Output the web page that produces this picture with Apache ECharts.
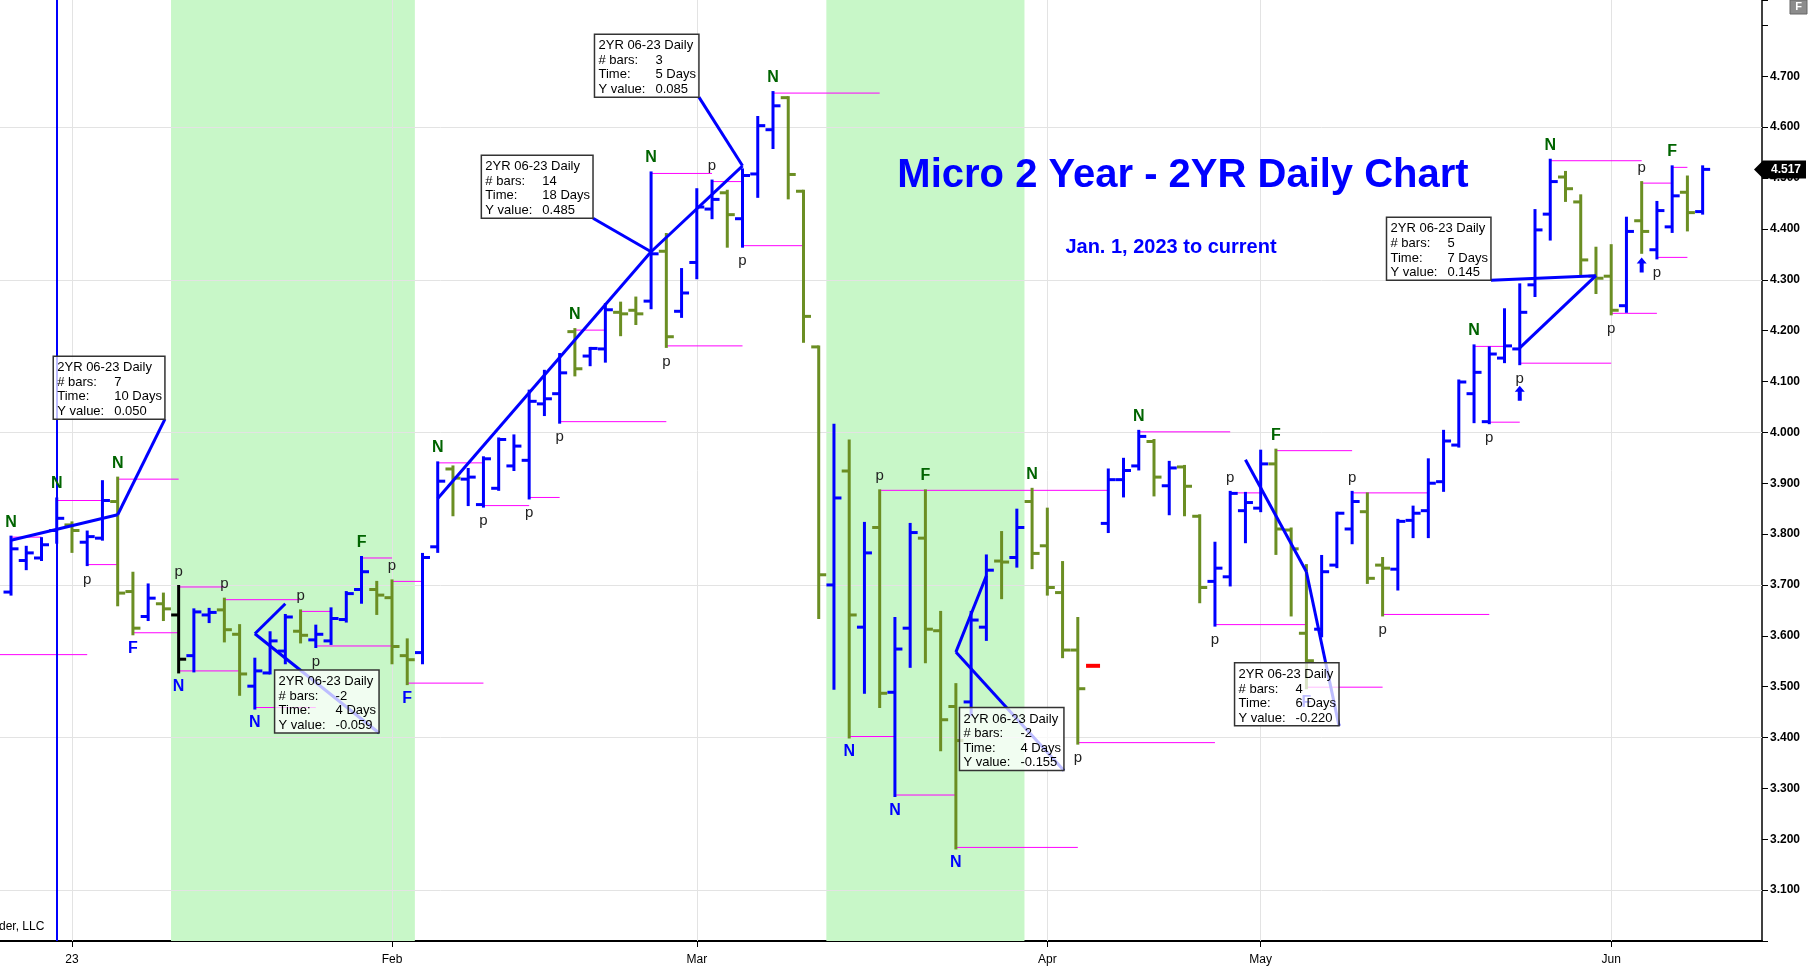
<!DOCTYPE html>
<html lang="en">
<head>
<meta charset="UTF-8">
<title>Micro 2 Year - 2YR Daily Chart</title>
<style>
    * {
        margin: 0;
        padding: 0;
        box-sizing: border-box;
    }

    html,
    body {
        width: 100%;
        height: 100%;
        background: #fff;
    }

    #chart {
        width: 1809px;
        height: 971px;
    }
</style>
</head>
<body>
<div id="chart"></div>
<script src="https://cdn.jsdelivr.net/npm/echarts@6.0.0/dist/echarts.min.js"></script>
<script>
    // daily bars [open, high, low, close], null = no session
    const ohlc = [
        [3.686, 3.794, 3.682, 3.771], [3.748, 3.774, 3.732, 3.763], [3.753, 3.791, 3.750, 3.779], [3.807, 3.869, 3.784, 3.831],
        [3.818, 3.822, 3.766, 3.807], [3.784, 3.804, 3.740, 3.795], [3.792, 3.903, 3.790, 3.866], [3.864, 3.910, 3.661, 3.684],
        [3.687, 3.723, 3.604, 3.615], [3.638, 3.700, 3.632, 3.674], [3.663, 3.682, 3.632, 3.653], [3.641, 3.697, 3.529, 3.554],
        [3.561, 3.651, 3.531, 3.647], [3.641, 3.652, 3.628, 3.646], [3.651, 3.672, 3.590, 3.612], [3.603, 3.620, 3.485, 3.525],
        [3.501, 3.554, 3.458, 3.531], [3.527, 3.606, 3.527, 3.590], [3.570, 3.640, 3.547, 3.637], [3.609, 3.649, 3.588, 3.601],
        [3.592, 3.619, 3.579, 3.603], [3.590, 3.653, 3.585, 3.634], [3.632, 3.685, 3.629, 3.683], [3.691, 3.754, 3.666, 3.726],
        [3.691, 3.705, 3.644, 3.680], [3.675, 3.708, 3.547, 3.579], [3.561, 3.592, 3.506, 3.553], [3.567, 3.760, 3.547, 3.754],
        [3.775, 3.940, 3.766, 3.904], [3.928, 3.932, 3.838, 3.910], [3.908, 3.927, 3.858, 3.912], [3.858, 3.950, 3.855, 3.948],
        [3.890, 3.987, 3.888, 3.986], [3.934, 3.993, 3.927, 3.973], [3.945, 4.081, 3.871, 4.061], [4.056, 4.120, 4.035, 4.066],
        [4.076, 4.153, 4.020, 4.117], [4.198, 4.202, 4.113, 4.125], [4.150, 4.165, 4.133, 4.165], [4.164, 4.251, 4.140, 4.241],
        [4.236, 4.254, 4.192, 4.233], [4.240, 4.264, 4.214, 4.233], [4.258, 4.510, 4.245, 4.351], [4.356, 4.389, 4.169, 4.188],
        [4.238, 4.320, 4.228, 4.274], [4.334, 4.477, 4.304, 4.443], [4.439, 4.494, 4.422, 4.458], [4.471, 4.474, 4.366, 4.428],
        [4.420, 4.516, 4.366, 4.505], [4.508, 4.619, 4.464, 4.603], [4.595, 4.668, 4.560, 4.642], [4.658, 4.658, 4.461, 4.507],
        [4.474, 4.474, 4.179, 4.228], [4.168, 4.168, 3.636, 3.720], [3.700, 4.014, 3.497, 3.871], [3.924, 3.983, 3.401, 3.641],
        [3.617, 3.821, 3.489, 3.763], [3.813, 3.885, 3.461, 3.487], [3.489, 3.634, 3.286, 3.574], [3.615, 3.819, 3.540, 3.803],
        [3.792, 3.885, 3.549, 3.613], [3.610, 3.646, 3.376, 3.435], [3.461, 3.504, 3.183, 3.394], [3.470, 3.646, 3.445, 3.631],
        [3.617, 3.757, 3.593, 3.729], [3.747, 3.803, 3.675, 3.745], [3.754, 3.847, 3.737, 3.813], [3.864, 3.888, 3.734, 3.762],
        [3.777, 3.849, 3.682, 3.695], [3.685, 3.744, 3.559, 3.572], [3.572, 3.634, 3.389, 3.496], null,
        [3.821, 3.926, 3.805, 3.907], [3.907, 3.947, 3.875, 3.925], [3.934, 4.002, 3.928, 3.992], [3.982, 3.984, 3.877, 3.912],
        [3.895, 3.941, 3.840, 3.930], [3.932, 3.933, 3.838, 3.894], [3.835, 3.836, 3.667, 3.695], [3.707, 3.782, 3.621, 3.733],
        [3.716, 3.882, 3.700, 3.880], [3.846, 3.880, 3.785, 3.862], [3.851, 3.963, 3.846, 3.938], [3.938, 3.965, 3.762, 3.810],
        [3.808, 3.810, 3.641, 3.771], [3.605, 3.738, 3.498, 3.551], [3.613, 3.756, 3.600, 3.726], [3.739, 3.841, 3.736, 3.841],
        [3.810, 3.882, 3.783, 3.864], [3.844, 3.879, 3.705, 3.713], [3.739, 3.752, 3.641, 3.733], [3.731, 3.827, 3.692, 3.825],
        [3.827, 3.853, 3.795, 3.841], [3.846, 3.946, 3.795, 3.900], [3.903, 4.002, 3.886, 3.983], [3.975, 4.101, 3.973, 4.099],
        [4.076, 4.170, 4.021, 4.118], [4.021, 4.166, 4.019, 4.154], [4.146, 4.241, 4.139, 4.170], [4.164, 4.290, 4.135, 4.236],
        [4.290, 4.436, 4.269, 4.398], [4.429, 4.535, 4.380, 4.493], [4.502, 4.511, 4.456, 4.479], [4.453, 4.465, 4.310, 4.339],
        [4.307, 4.362, 4.275, 4.303], [4.307, 4.367, 4.233, 4.240], [4.249, 4.421, 4.238, 4.395], [4.416, 4.491, 4.354, 4.395],
        [4.359, 4.452, 4.343, 4.436], [4.404, 4.522, 4.395, 4.465], [4.472, 4.502, 4.398, 4.432], [4.434, 4.522, 4.431, 4.517]
    ];

    // x axis: bar numbers where a month starts, and the text under them
    const monthTicks = [4, 25, 45, 68, 82, 105];
    const monthNames = ['23', 'Feb', 'Mar', 'Apr', 'May', 'Jun'];
    const gridLevels = [3.1, 3.4, 3.7, 4.0, 4.3, 4.6];
    const shaded = [[10.5, 26.5], [53.5, 66.5]];
    const cursorBar = 3;
    const lastPrice = 4.517;

    // pivot levels [from bar, to bar, price]
    const pivotLines = [
        [0, 2, 3.794], [-1, 5, 3.563], [3, 6, 3.866], [5, 7, 3.740], [7, 11, 3.908], [8, 11, 3.606],
        [11, 14, 3.696], [11, 15, 3.531], [14, 19, 3.671], [16, 20, 3.459], [19, 21, 3.648], [20, 25, 3.580],
        [23, 25, 3.753], [25, 27, 3.707], [26, 31, 3.507], [28, 31, 3.940], [31, 34, 3.856], [34, 36, 3.872],
        [36, 43, 4.021], [37, 39, 4.201], [42, 46, 4.509], [43, 48, 4.170], [46, 48, 4.493], [48, 52, 4.367],
        [50, 57, 4.667], [55, 58, 3.402], [57, 72, 3.886], [58, 62, 3.287], [62, 70, 3.184], [70, 79, 3.390],
        [74, 80, 4.001], [80, 82, 3.881], [79, 85, 3.622], [83, 88, 3.964], [85, 90, 3.499], [88, 93, 3.881],
        [90, 97, 3.642], [96, 98, 4.169], [97, 99, 4.020], [99, 105, 4.136], [101, 107, 4.534], [105, 108, 4.234],
        [107, 109, 4.490], [108, 110, 4.344], [109, 110, 4.521]
    ];

    // swing letters [bar, text, side]
    const markers = [
        [0, 'N', 'up'], [3, 'N', 'up'], [5, 'p', 'dn'], [7, 'N', 'up'], [8, 'F', 'dn'], [11, 'p', 'up'], [11, 'N', 'dn'],
        [14, 'p', 'up'], [16, 'N', 'dn'], [19, 'p', 'up'], [20, 'p', 'dn'], [23, 'F', 'up'], [25, 'p', 'up'], [26, 'F', 'dn'],
        [28, 'N', 'up'], [31, 'p', 'dn'], [34, 'p', 'dn'], [36, 'p', 'dn'], [37, 'N', 'up'], [42, 'N', 'up'], [43, 'p', 'dn'],
        [46, 'p', 'up'], [48, 'p', 'dn'], [50, 'N', 'up'], [55, 'N', 'dn'], [57, 'p', 'up'], [58, 'N', 'dn'], [60, 'F', 'up'],
        [62, 'N', 'dn'], [67, 'N', 'up'], [70, 'p', 'dn'], [74, 'N', 'up'], [79, 'p', 'dn'], [80, 'p', 'up'], [83, 'F', 'up'],
        [85, 'F', 'dn'], [88, 'p', 'up'], [90, 'p', 'dn'], [96, 'N', 'up'], [97, 'p', 'dn'], [99, 'p', 'dn'], [101, 'N', 'up'],
        [105, 'p', 'dn'], [107, 'p', 'up'], [108, 'p', 'dn'], [109, 'F', 'up']
    ];

    const arrows = [[99, 4.076], [107, 4.328]];
    const holidayMarks = [[71, 3.541]];

    // measuring tool: line from -> to, box bottom-right corner at corner
    const studies = [
        { from: [0, 3.788], to: [7, 3.838], corner: [10.10, 4.026], bars: '7', time: '10 Days', y: '0.050' },
        { from: [18, 3.663], to: [16, 3.604], corner: [24.15, 3.409], bars: '-2', time: '4 Days', y: '-0.059' },
        { from: [28, 3.870], to: [42, 4.355], corner: [38.19, 4.421], bars: '14', time: '18 Days', y: '0.485' },
        { from: [42, 4.355], to: [48, 4.524], corner: [45.14, 4.659], bars: '3', time: '5 Days', y: '0.085' },
        { from: [64, 3.718], to: [62, 3.568], corner: [69.09, 3.335], bars: '-2', time: '4 Days', y: '-0.155' },
        { from: [81, 3.946], to: [85, 3.726], corner: [87.14, 3.423], bars: '4', time: '6 Days', y: '-0.220' },
        { from: [99, 4.166], to: [104, 4.308], corner: [97.11, 4.299], bars: '5', time: '7 Days', y: '0.145' }
    ];

    const UP = '#0000ff';
    const DOWN = '#6b8e23';
    const barColors = { 11: '#000000' };
    const FONT = '"Liberation Sans", Arial, sans-serif';

    const measureCtx = document.createElement('canvas').getContext('2d');
    function textWidth(str, font) {
        measureCtx.font = font;
        return measureCtx.measureText(str).width;
    }

    function renderBar(params, api) {
        const i = api.value(0);
        const o = api.coord([i, api.value(1)]);
        const h = api.coord([i, api.value(2)]);
        const l = api.coord([i, api.value(3)]);
        const c = api.coord([i, api.value(4)]);
        const color = barColors[i] || (api.value(4) >= api.value(1) ? UP : DOWN);
        const st = { stroke: color, lineWidth: 3 };
        return {
            type: 'group',
            children: [
                { type: 'line', shape: { x1: h[0], y1: h[1] - 1.5, x2: l[0], y2: l[1] + 1.5 }, style: st },
                { type: 'line', shape: { x1: o[0] - 7.5, y1: o[1], x2: o[0], y2: o[1] }, style: st },
                { type: 'line', shape: { x1: c[0], y1: c[1], x2: c[0] + 7.5, y2: c[1] }, style: st }
            ]
        };
    }

    function renderPivot(params, api) {
        const a = api.coord([api.value(0), api.value(2)]);
        const b = api.coord([api.value(1), api.value(2)]);
        return {
            type: 'line',
            shape: { x1: a[0], y1: a[1], x2: b[0], y2: b[1] },
            style: { stroke: '#ff00ff', lineWidth: 1 }
        };
    }

    function renderMarker(params, api) {
        const m = markers[params.dataIndex];
        const p = api.coord([api.value(0), api.value(1)]);
        const above = m[2] === 'up';
        const isP = m[1] === 'p';
        return {
            type: 'text',
            x: p[0],
            y: p[1] + (above ? -15 : 15),
            style: {
                text: m[1],
                align: 'center',
                verticalAlign: 'middle',
                fill: isP ? '#222' : (above ? '#006400' : '#0000ff'),
                font: (isP ? '15px ' : 'bold 16px ') + FONT
            }
        };
    }

    function renderArrow(params, api) {
        const p = api.coord([api.value(0), api.value(1)]);
        const x = p[0], y = p[1];
        return {
            type: 'polygon',
            shape: {
                points: [[x, y - 8], [x + 5, y - 2], [x + 2, y - 2], [x + 2, y + 7], [x - 2, y + 7], [x - 2, y - 2], [x - 5, y - 2]]
            },
            style: { fill: '#0000ff' }
        };
    }

    function renderHoliday(params, api) {
        const p = api.coord([api.value(0), api.value(1)]);
        return {
            type: 'rect',
            shape: { x: p[0] - 7, y: p[1] - 2, width: 14, height: 4 },
            style: { fill: '#ff0000' }
        };
    }

    function renderStudy(params, api) {
        const s = studies[params.dataIndex];
        const a = api.coord(s.from);
        const b = api.coord(s.to);
        const c = api.coord(s.corner);
        const f = '13px ' + FONT;
        const w = Math.max(104, 61 + textWidth(s.time, f) + 3);
        const h = 63;
        const x = c[0] - w;
        const y = c[1] - h;
        const blue = { stroke: '#0000ff', lineWidth: 3 };
        const rows = [['2YR 06-23 Daily', ''], ['# bars:', s.bars], ['Time:', s.time], ['Y value:', s.y]];
        const children = [
            { type: 'line', shape: { x1: a[0], y1: a[1], x2: b[0], y2: b[1] }, style: blue },
            { type: 'line', shape: { x1: b[0], y1: b[1], x2: c[0], y2: c[1] }, style: blue },
            {
                type: 'rect',
                shape: { x: x, y: y, width: w, height: h },
                style: { fill: 'rgba(255,255,255,0.74)', stroke: '#333', lineWidth: 1.5 }
            }
        ];
        rows.forEach(function (r, k) {
            const ty = y + 11.5 + k * 14.6;
            children.push({ type: 'text', x: x + 4, y: ty, style: { text: r[0], font: f, fill: '#000', verticalAlign: 'middle' } });
            if (r[1]) {
                children.push({ type: 'text', x: x + 61, y: ty, style: { text: r[1], font: f, fill: '#000', verticalAlign: 'middle' } });
            }
        });
        return { type: 'group', children: children };
    }

    const chart = echarts.init(document.getElementById('chart'));

    const option = {
        animation: false,
        backgroundColor: '#fff',
        grid: { left: 0, right: 47, top: 0, bottom: 30 },
        xAxis: {
            type: 'value',
            min: -0.722,
            max: 114.895,
            axisLine: { show: true, onZero: false, lineStyle: { color: '#000', width: 2 } },
            axisTick: { show: true, customValues: monthTicks, length: 6, lineStyle: { color: '#000' } },
            axisLabel: {
                customValues: monthTicks,
                color: '#000',
                fontFamily: 'Liberation Sans',
                fontSize: 12,
                margin: 13,
                formatter: function (v) {
                    const k = monthTicks.indexOf(v);
                    return k >= 0 ? monthNames[k] : '';
                }
            },
            splitLine: { show: false }
        },
        yAxis: {
            type: 'value',
            position: 'right',
            min: 3.0,
            max: 4.85,
            interval: 0.1,
            axisLine: { show: true, onZero: false, lineStyle: { color: '#000', width: 1.5 } },
            axisTick: { show: true, length: 6, lineStyle: { color: '#000' } },
            axisLabel: {
                color: '#000',
                fontFamily: 'Liberation Sans',
                fontWeight: 'bold',
                fontSize: 12,
                margin: 8,
                formatter: function (v) {
                    return (v < 3.05 || v > 4.75) ? '' : v.toFixed(3);
                }
            },
            splitLine: { show: false }
        },
        series: [
            {
                type: 'line',
                data: [],
                z: 0,
                silent: true,
                markArea: {
                    silent: true,
                    itemStyle: { color: '#c8f7c8' },
                    data: shaded.map(function (s) { return [{ xAxis: s[0] }, { xAxis: s[1] }]; })
                }
            },
            {
                type: 'line',
                data: [],
                z: 1,
                silent: true,
                markLine: {
                    silent: true,
                    z: 2,
                    symbol: 'none',
                    label: { show: false },
                    lineStyle: { color: '#e3e3e3', width: 1, type: 'solid' },
                    data: gridLevels.map(function (v) { return { yAxis: v }; })
                        .concat(monthTicks.map(function (v) { return { xAxis: v }; }))
                }
            },
            {
                type: 'custom',
                z: 6,
                clip: true,
                renderItem: renderPivot,
                encode: { x: [0, 1], y: 2 },
                data: pivotLines,
                markLine: {
                    silent: true,
                    z: 7,
                    symbol: 'none',
                    label: { show: false },
                    lineStyle: { color: '#0000ff', width: 2, type: 'solid' },
                    data: [{ xAxis: cursorBar }]
                }
            },
            {
                type: 'custom',
                name: '2YR 06-23',
                z: 10,
                renderItem: renderBar,
                encode: { x: 0, y: [1, 2, 3, 4] },
                data: ohlc.map(function (b, i) { return b && [i].concat(b); }).filter(Boolean)
            },
            {
                type: 'custom',
                z: 11,
                renderItem: renderHoliday,
                encode: { x: 0, y: 1 },
                data: holidayMarks
            },
            {
                type: 'custom',
                z: 11,
                renderItem: renderMarker,
                encode: { x: 0, y: 1 },
                data: markers.map(function (m) { return [m[0], m[2] === 'up' ? ohlc[m[0]][1] : ohlc[m[0]][2]]; })
            },
            {
                type: 'custom',
                z: 11,
                renderItem: renderArrow,
                encode: { x: 0, y: 1 },
                data: arrows
            },
            {
                type: 'custom',
                z: 12,
                renderItem: renderStudy,
                encode: { x: 0, y: 1 },
                data: studies.map(function (s) { return s.from; })
            }
        ]
    };
    chart.setOption(option);

    // price tag on the axis, title and small texts
    const axisX = chart.convertToPixel({ xAxisIndex: 0 }, 114.895);
    const tagY = chart.convertToPixel({ yAxisIndex: 0 }, lastPrice);
    chart.setOption({
        graphic: [
            {
                type: 'polygon', z: 100,
                shape: { points: [[axisX - 8, tagY], [axisX + 1, tagY - 9], [axisX + 44, tagY - 9], [axisX + 44, tagY + 9], [axisX + 1, tagY + 9]] },
                style: { fill: '#000' }
            },
            {
                type: 'text', z: 101, x: axisX + 24, y: tagY,
                style: { text: lastPrice.toFixed(3), fill: '#fff', font: 'bold 12px ' + FONT, align: 'center', verticalAlign: 'middle' }
            },
            {
                type: 'rect', z: 100, shape: { x: 1790, y: 0, width: 17, height: 14 },
                style: { fill: '#8c8c8c', stroke: '#666', lineWidth: 1 }
            },
            {
                type: 'text', z: 101, x: 1798.5, y: 7,
                style: { text: 'F', fill: '#fff', font: 'bold 11px ' + FONT, align: 'center', verticalAlign: 'middle' }
            },
            {
                type: 'text', z: 100, x: 1183, y: 176,
                style: { text: 'Micro 2 Year - 2YR Daily Chart', fill: '#0000ff', font: 'bold 40px ' + FONT, align: 'center', verticalAlign: 'middle' }
            },
            {
                type: 'text', z: 100, x: 1171, y: 247,
                style: { text: 'Jan. 1, 2023 to current', fill: '#0000ff', font: 'bold 20px ' + FONT, align: 'center', verticalAlign: 'middle' }
            },
            {
                type: 'text', z: 100, x: -1, y: 927,
                style: { text: 'der, LLC', fill: '#000', font: '12px ' + FONT, verticalAlign: 'middle' }
            }
        ]
    });
</script>
</body>
</html>
